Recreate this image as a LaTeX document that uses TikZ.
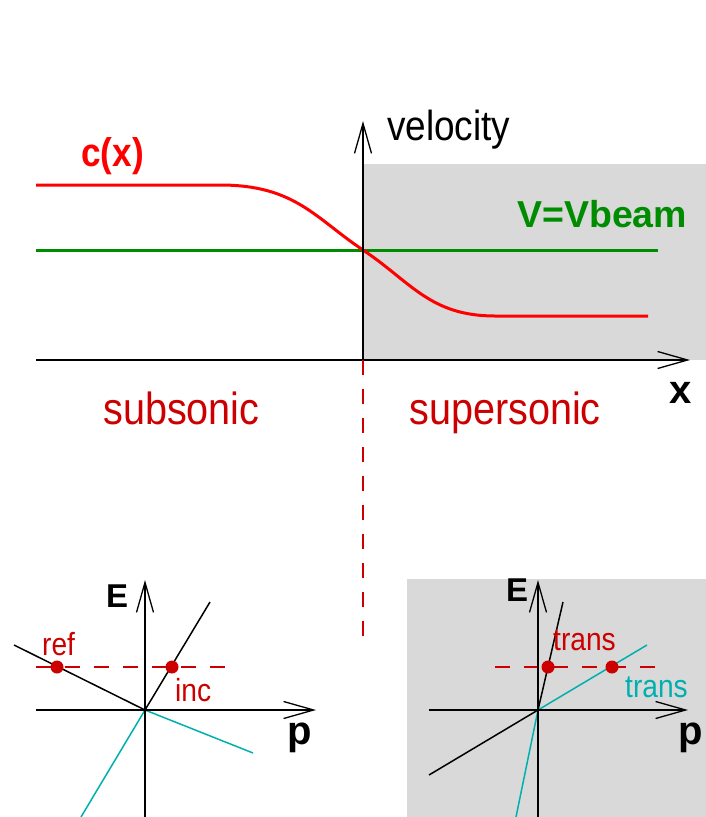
\documentclass[tikz,border=0pt]{standalone}
\usepackage{fontspec}
\newfontfamily\labfont[FakeStretch=0.88]{Liberation Sans}
\newfontfamily\axisfont{Liberation Sans}
\usetikzlibrary{arrows.meta}
\definecolor{darkred}{HTML}{CC0000}
\definecolor{curvered}{HTML}{FF0000}
\definecolor{beamgreen}{HTML}{008C00}
\definecolor{dispcyan}{HTML}{00B0B0}
\definecolor{supergrey}{HTML}{D9D9D9}

\begin{document}
\begin{tikzpicture}[x=1pt, y=-1pt,
        axisLine/.style={line width=1.3pt, draw=black},
        axisArrow/.style={axisLine, -{Straight Barb[length=30pt, width=17pt]}},
        dashRed/.style={line width=1.5pt, draw=darkred, dash pattern=on 15pt off 14pt},
        branchBlack/.style={line width=1.5pt, draw=black},
        branchCyan/.style={line width=1.5pt, draw=dispcyan},
        dot/.style={circle, fill=darkred, inner sep=0pt, minimum size=13pt},
        lbl/.style={inner sep=0pt, anchor=base west}
    ]
        \useasboundingbox (0,0) rectangle (706,817);

        % Top panel: speed profile
        \fill[supergrey] (363,164) rectangle (706,360);
        \coordinate (orig) at (363,360);
        \coordinate (velTip) at (363,121);
        \coordinate (xStart) at (36,360);
        \coordinate (xTip) at (690,360);
        \coordinate (beamL) at (36,250);
        \coordinate (beamR) at (658,250);
        \coordinate (horizon) at (363,637);

        \draw[line width=3pt, draw=beamgreen] (beamL) -- (beamR);
        \draw[line width=3pt, draw=curvered] (36,185) -- (220,185)
            .. controls (295,185) and (315,218) .. (363,250)
            .. controls (411,282) and (430,316) .. (495,316) -- (648,316);
        \draw[axisArrow] (orig) -- (velTip);
        \draw[axisArrow] (xStart) -- (xTip);
        \draw[dashRed] (orig) -- (horizon);

        \node[lbl, font=\labfont\bfseries\fontsize{40}{40}\selectfont, text=curvered] (cLabel) at (81,166) {c(x)};
        \node[lbl, font=\labfont\fontsize{42}{42}\selectfont] (velLabel) at (387,140) {velocity};
        \node[lbl, font=\axisfont\bfseries\fontsize{37.5}{37.5}\selectfont, text=beamgreen] (beamLabel) at (517,227) {V=Vbeam};
        \node[lbl, font=\axisfont\bfseries\fontsize{40}{40}\selectfont] (xLabel) at (669,403) {x};
        \node[lbl, font=\labfont\fontsize{45}{45}\selectfont, text=darkred] (subLabel) at (103,424) {subsonic};
        \node[lbl, font=\labfont\fontsize{45}{45}\selectfont, text=darkred] (supLabel) at (409,424) {supersonic};

        % Bottom left: subsonic dispersion
        \coordinate (oL) at (145,710);
        \coordinate (eLbot) at (145,817);
        \coordinate (eLtip) at (145,580);
        \coordinate (pLstart) at (36,710);
        \coordinate (pLtip) at (316,710);
        \draw[dashRed] (36,667) -- (225,667);
        \draw[branchCyan] (81,817) -- (oL) -- (253,753);
        \draw[branchBlack] (14,645) -- (oL) -- (210,602);
        \draw[axisArrow] (eLbot) -- (eLtip);
        \draw[axisArrow] (pLstart) -- (pLtip);
        \node[dot] (refDot) at (57,667) {};
        \node[dot] (incDot) at (172,667) {};
        \node[lbl, font=\axisfont\bfseries\fontsize{33}{33}\selectfont] (eLLabel) at (106,607) {E};
        \node[lbl, font=\axisfont\bfseries\fontsize{40}{40}\selectfont] (pLLabel) at (287,744) {p};
        \node[lbl, font=\labfont\fontsize{32}{32}\selectfont, text=darkred] (refLabel) at (42,655) {ref};
        \node[lbl, font=\labfont\fontsize{32}{32}\selectfont, text=darkred] (incLabel) at (175,701) {inc};

        % Bottom right: supersonic dispersion
        \fill[supergrey] (407,579) rectangle (706,817);
        \coordinate (oR) at (538,710);
        \coordinate (eRbot) at (538,817);
        \coordinate (eRtip) at (538,580);
        \coordinate (pRstart) at (429,710);
        \coordinate (pRtip) at (688,710);
        \draw[dashRed] (495,667) -- (655,667);
        \draw[branchBlack] (429,775) -- (oR) -- (563,602);
        \draw[branchCyan] (516,817) -- (oR) -- (647,645);
        \draw[axisArrow] (eRbot) -- (eRtip);
        \draw[axisArrow] (pRstart) -- (pRtip);
        \node[dot] (transDotA) at (548,667) {};
        \node[dot] (transDotB) at (612,667) {};
        \node[lbl, font=\axisfont\bfseries\fontsize{33}{33}\selectfont] (eRLabel) at (506,601) {E};
        \node[lbl, font=\axisfont\bfseries\fontsize{40}{40}\selectfont] (pRLabel) at (678,744) {p};
        \node[lbl, font=\labfont\fontsize{32}{32}\selectfont, text=darkred] (transRed) at (553,650) {trans};
        \node[lbl, font=\labfont\fontsize{32}{32}\selectfont, text=dispcyan] (transCyan) at (625,697) {trans};
    \end{tikzpicture}
\end{document}
